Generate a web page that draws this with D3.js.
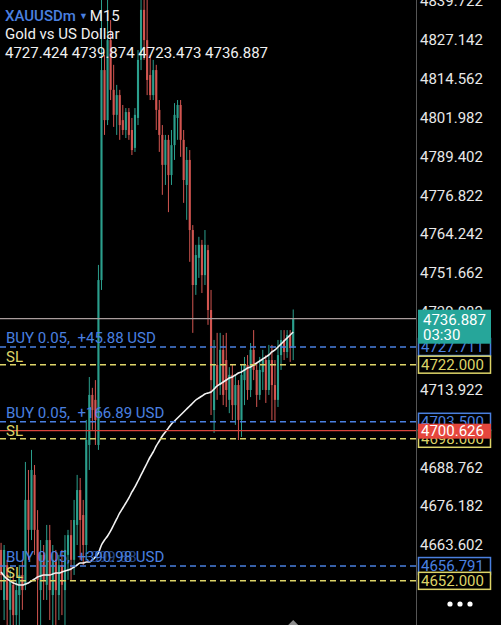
<!DOCTYPE html>
<html>
<head>
<meta charset="utf-8">
<script src="https://cdn.jsdelivr.net/npm/d3@7"></script>
<style>
  html, body { margin: 0; padding: 0; background: #000; overflow: hidden; }
  svg { display: block; font-family: Roboto, "Noto Sans", sans-serif; }
  text { white-space: pre; }
</style>
</head>
<body>
<svg width="501" height="625"></svg>
<script>
// The svg
var svg = d3.select("svg"),
    width = +svg.attr("width"),
    height = +svg.attr("height");

// XAUUSDm M15 candles
var opens = [4662.0, 4645.8, 4657.1, 4642.6, 4650.7, 4640.9, 4647.4, 4653.9, 4650.7, 4678.2,
             4668.5, 4686.3, 4668.5, 4649.0, 4660.4, 4650.7, 4665.2, 4647.4, 4658.8, 4647.4,
             4657.1, 4649.0, 4660.4, 4666.8, 4658.8, 4670.1, 4681.4, 4673.3, 4663.6, 4696.0,
             4712.2, 4710.6, 4696.0, 4749.4, 4817.4, 4801.2, 4827.1, 4811.0, 4802.9, 4809.3,
             4801.2, 4798.0, 4803.8, 4798.0, 4792.2, 4801.9, 4820.7, 4836.9, 4827.1, 4815.8,
             4809.3, 4817.4, 4804.5, 4796.4, 4786.7, 4794.8, 4783.4, 4793.1, 4801.9, 4806.1,
             4794.8, 4780.2, 4788.3, 4765.6, 4747.8, 4756.6, 4760.8, 4751.0, 4759.1, 4739.7,
             4707.3, 4721.9, 4715.4, 4726.8, 4723.5, 4710.6, 4718.7, 4708.9, 4715.4, 4704.1,
             4717.0, 4721.9, 4713.8, 4726.8, 4720.3, 4712.2, 4719.6, 4723.5, 4713.8, 4723.5,
             4715.4, 4710.6, 4725.1, 4730.0, 4726.1, 4731.6, 4727.424];
var highs = [4664.3, 4663.6, 4658.8, 4655.5, 4653.9, 4652.3, 4657.1, 4658.8, 4690.5, 4687.9,
             4694.4, 4689.5, 4674.9, 4665.2, 4663.6, 4670.1, 4670.1, 4663.6, 4662.0, 4660.4,
             4662.0, 4666.8, 4668.5, 4671.7, 4678.2, 4686.3, 4685.3, 4678.2, 4704.1, 4718.0,
             4714.5, 4717.0, 4754.3, 4841.7, 4822.3, 4840.1, 4833.6, 4819.1, 4812.6, 4811.0,
             4806.1, 4805.1, 4805.1, 4801.9, 4805.1, 4823.9, 4841.7, 4841.7, 4840.1, 4822.3,
             4820.7, 4819.1, 4807.7, 4799.6, 4796.4, 4796.4, 4798.0, 4806.7, 4807.7, 4807.7,
             4798.0, 4792.5, 4791.5, 4767.2, 4760.8, 4763.4, 4762.4, 4765.6, 4760.8, 4746.2,
             4730.0, 4732.3, 4732.3, 4731.6, 4732.3, 4721.2, 4721.9, 4718.7, 4717.0, 4721.9,
             4724.5, 4725.1, 4729.0, 4733.2, 4722.5, 4724.5, 4726.8, 4725.1, 4728.4, 4728.4,
             4723.5, 4730.0, 4733.2, 4733.2, 4733.2, 4733.2, 4739.874];
var lows = [4649.0, 4639.3, 4637.7, 4636.1, 4634.5, 4634.5, 4637.7, 4642.6, 4649.0, 4658.8,
            4665.2, 4660.4, 4637.7, 4637.7, 4645.8, 4645.8, 4639.3, 4637.7, 4637.7, 4639.3,
            4640.9, 4637.7, 4652.3, 4652.3, 4653.9, 4663.6, 4658.8, 4657.1, 4658.8, 4687.9,
            4700.9, 4696.0, 4694.4, 4746.2, 4796.4, 4799.6, 4807.7, 4799.0, 4796.4, 4794.8,
            4796.4, 4795.4, 4794.8, 4789.9, 4790.9, 4799.6, 4817.4, 4820.7, 4809.3, 4807.7,
            4807.7, 4798.0, 4790.9, 4777.0, 4780.2, 4771.4, 4780.2, 4788.3, 4794.8, 4789.3,
            4774.4, 4768.9, 4755.3, 4732.3, 4744.6, 4750.1, 4745.2, 4747.8, 4734.9, 4705.7,
            4699.9, 4710.6, 4712.2, 4708.9, 4708.3, 4706.3, 4704.1, 4702.5, 4697.6, 4698.6,
            4708.9, 4710.6, 4711.5, 4717.0, 4708.3, 4710.6, 4713.8, 4709.6, 4712.2, 4704.1,
            4703.4, 4708.3, 4720.3, 4723.5, 4724.2, 4722.9, 4723.473];
var closes = [4653.9, 4662.0, 4645.8, 4652.3, 4640.9, 4649.0, 4653.9, 4649.0, 4678.2, 4668.5,
              4687.9, 4668.5, 4652.3, 4660.4, 4652.3, 4665.2, 4649.0, 4658.8, 4649.0, 4657.1,
              4650.7, 4662.0, 4666.8, 4658.8, 4671.7, 4681.4, 4671.7, 4663.6, 4697.6, 4712.2,
              4707.3, 4704.1, 4749.4, 4817.4, 4801.2, 4827.1, 4811.0, 4802.9, 4809.3, 4799.6,
              4798.0, 4803.8, 4796.4, 4791.5, 4802.9, 4820.7, 4836.9, 4827.1, 4814.2, 4809.3,
              4817.4, 4804.5, 4796.4, 4786.7, 4794.8, 4783.4, 4793.1, 4802.9, 4806.1, 4794.8,
              4781.8, 4788.3, 4765.6, 4747.8, 4757.5, 4760.8, 4751.0, 4760.8, 4739.7, 4717.0,
              4721.9, 4715.4, 4726.8, 4712.2, 4713.8, 4718.7, 4708.9, 4715.4, 4704.1, 4718.7,
              4721.9, 4713.8, 4726.8, 4720.3, 4712.2, 4720.3, 4723.5, 4713.8, 4723.5, 4715.4,
              4710.6, 4725.1, 4730.0, 4726.1, 4731.6, 4727.4, 4736.887];

// moving average line (white), one value per candle
var maValues = [4654.86, 4653.57, 4652.60, 4651.95, 4651.30, 4650.98, 4650.65, 4650.65, 4650.98, 4651.30,
                4651.95, 4652.60, 4653.24, 4653.57, 4653.89, 4653.89, 4653.89, 4654.22, 4654.54, 4654.54,
                4654.86, 4655.19, 4655.51, 4655.84, 4656.48, 4657.13, 4657.78, 4657.78, 4658.10, 4658.10,
                4658.75, 4659.72, 4661.02, 4663.61, 4665.23, 4666.52, 4668.14, 4670.08, 4672.03, 4673.97,
                4675.59, 4677.21, 4678.83, 4680.77, 4682.39, 4684.33, 4686.28, 4688.22, 4690.16, 4692.10,
                4693.72, 4695.67, 4697.28, 4698.90, 4700.20, 4701.49, 4702.79, 4703.76, 4704.73, 4705.71,
                4706.68, 4707.65, 4708.62, 4709.59, 4710.56, 4711.21, 4711.86, 4712.51, 4712.83, 4713.15,
                4714.12, 4715.10, 4715.74, 4716.39, 4717.04, 4717.69, 4718.01, 4718.66, 4719.31, 4719.63,
                4720.28, 4720.93, 4721.25, 4721.90, 4722.54, 4723.19, 4723.84, 4724.49, 4725.14, 4726.11,
                4726.76, 4727.73, 4728.70, 4729.67, 4730.64, 4731.61, 4732.58];

// price axis
var tickValues = [4839.722, 4827.142, 4814.562, 4801.982, 4789.402, 4776.822, 4764.242, 4751.662,
                  4739.082, 4726.502, 4713.922, 4701.342, 4688.762, 4676.182, 4663.602, 4651.022];

// open positions: entry price, profit text, stop loss
var buyPrices = [4727.711, 4703.500, 4656.791];
var buyProfits = ["+45.88 USD", "+166.89 USD", "+390.98 USD"];
var slPrices = [4722.000, 4698.000, 4652.000];

var bidPrice = 4736.887, bidTimer = "03:30";
var askPrice = 4700.626;

var symbol = "XAUUSDm", timeframe = "M15", description = "Gold vs US Dollar";

// colours
var green = "#2b9f8d", red = "#d25550", blue = "#4a80e0", yellow = "#ddd468";

var plotRight = 416;
var slots = 137;  // visible bar slots incl. empty space on the right

var x = d3.scaleBand()
    .domain(d3.range(slots))
    .range([0, plotRight])
    .paddingInner(0.3);

var y = d3.scaleLinear()
    .domain([4663.602, 4827.142])
    .range([545, 40]);

var candles = opens.map((o, i) => ({ i: i, o: o, h: highs[i], l: lows[i], c: closes[i] }));

svg.append("rect").attr("width", width).attr("height", height).attr("fill", "#000");

svg.append("clipPath").attr("id", "plot")
  .append("rect").attr("width", plotRight).attr("height", height);

const g = svg.append("g").attr("clip-path", "url(#plot)");

// candles
var cg = g.selectAll("g.candle")
    .data(candles)
    .enter()
    .append("g")
      .attr("class", "candle");

cg.append("line")
    .attr("x1", d => x(d.i) + x.bandwidth() / 2)
    .attr("x2", d => x(d.i) + x.bandwidth() / 2)
    .attr("y1", d => y(d.h))
    .attr("y2", d => y(d.l))
    .attr("stroke", d => d.c >= d.o ? green : red)
    .attr("stroke-width", 1);

cg.append("rect")
    .attr("x", d => x(d.i))
    .attr("width", x.bandwidth())
    .attr("y", d => y(Math.max(d.o, d.c)))
    .attr("height", d => Math.max(1, Math.abs(y(d.o) - y(d.c))))
    .attr("fill", d => d.c >= d.o ? green : red);

// moving average
g.append("path")
    .datum(maValues)
    .attr("fill", "none")
    .attr("stroke", "#f2f2f2")
    .attr("stroke-width", 1.6)
    .attr("d", d3.line()
        .x((d, i) => x(i) + x.bandwidth() / 2)
        .y(d => y(d))
        .curve(d3.curveMonotoneX));

// bid line and ask line
g.append("line")
    .attr("x1", 0).attr("x2", plotRight)
    .attr("y1", y(bidPrice)).attr("y2", y(bidPrice))
    .attr("stroke", "#a99d9d").attr("stroke-width", 1.2);

g.append("line")
    .attr("x1", 0).attr("x2", plotRight)
    .attr("y1", y(askPrice)).attr("y2", y(askPrice))
    .attr("stroke", "#d8453c").attr("stroke-width", 1.2);

// position lines
g.selectAll("line.buy")
    .data(buyPrices)
    .enter()
    .append("line")
      .attr("class", "buy")
      .attr("x1", 0).attr("x2", plotRight)
      .attr("y1", d => y(d)).attr("y2", d => y(d))
      .attr("stroke", blue).attr("stroke-width", 1.5)
      .attr("stroke-dasharray", "6,4");

g.selectAll("line.sl")
    .data(slPrices)
    .enter()
    .append("line")
      .attr("class", "sl")
      .attr("x1", 0).attr("x2", plotRight)
      .attr("y1", d => y(d)).attr("y2", d => y(d))
      .attr("stroke", yellow).attr("stroke-width", 1.5)
      .attr("stroke-dasharray", "6,4");

g.selectAll("text.buy")
    .data(buyPrices)
    .enter()
    .append("text")
      .attr("class", "buy")
      .attr("x", 6)
      .attr("y", d => y(d) - 4)
      .attr("fill", blue)
      .style("font-size", "15px")
      .text((d, i) => "BUY 0.05,  " + buyProfits[i]);

// the last profit label is caught mid-update in the picture
g.append("text")
    .attr("x", 82)
    .attr("y", y(buyPrices[2]) - 4)
    .attr("fill", blue)
    .attr("opacity", 0.55)
    .style("font-size", "15px")
    .text("+399.88");

g.selectAll("text.sl")
    .data(slPrices)
    .enter()
    .append("text")
      .attr("class", "sl")
      .attr("x", 6)
      .attr("y", d => y(d) - 3)
      .attr("fill", yellow)
      .style("font-size", "15px")
      .text("SL");

// header
var head = svg.append("text")
    .attr("x", 5).attr("y", 21)
    .style("font-size", "15px");
head.append("tspan").attr("fill", blue).attr("font-weight", 500).text(symbol);
head.append("tspan").attr("fill", blue).style("font-size", "9px").attr("dx", 3).attr("dy", -2).text("▼");
head.append("tspan").attr("fill", "#f0f0f0").attr("dx", 2).attr("dy", 2).text(timeframe);

svg.append("text")
    .attr("x", 5).attr("y", 39)
    .attr("fill", "#f0f0f0")
    .style("font-size", "15px")
    .text(description);

var last = candles[candles.length - 1];
svg.append("text")
    .attr("x", 5).attr("y", 58)
    .attr("fill", "#f0f0f0")
    .style("font-size", "15px")
    .text([last.o, last.h, last.l, last.c].map(v => v.toFixed(3)).join(" "));

// price axis
svg.append("line")
    .attr("x1", plotRight + 0.5).attr("x2", plotRight + 0.5)
    .attr("y1", 0).attr("y2", height)
    .attr("stroke", "#555").attr("stroke-width", 1);

// labels fully hidden behind a price badge are not drawn
var badgePrices = buyPrices.concat(slPrices, [askPrice]);
var shownTicks = tickValues.filter(t => !badgePrices.some(p => Math.abs(y(p) - y(t)) < 5));

svg.selectAll("text.tick")
    .data(shownTicks)
    .enter()
    .append("text")
      .attr("class", "tick")
      .attr("x", 420)
      .attr("y", d => y(d))
      .attr("dy", "0.35em")
      .attr("fill", "#e8e8e8")
      .style("font-size", "15px")
      .text(d => d.toFixed(3));

// price badges
function badge(price, stroke, fill, colour) {
    var b = svg.append("g");
    b.append("rect")
        .attr("x", 418.5).attr("width", 72)
        .attr("y", y(price) - 8.5).attr("height", 17)
        .attr("fill", fill)
        .attr("stroke", stroke).attr("stroke-width", 1.5);
    b.append("text")
        .attr("x", 421)
        .attr("y", y(price))
        .attr("dy", "0.36em")
        .attr("fill", colour)
        .style("font-size", "15px")
        .text(price.toFixed(3));
}

badge(buyPrices[0], blue, "#000", blue);
badge(slPrices[0], yellow, "#000", yellow);
badge(buyPrices[1], blue, "#000", blue);
badge(slPrices[1], yellow, "#000", yellow);
badge(buyPrices[2], blue, "#000", blue);
badge(slPrices[2], yellow, "#000", yellow);

// ask badge (red, filled)
svg.append("rect")
    .attr("x", 418).attr("width", 73)
    .attr("y", y(askPrice) - 7).attr("height", 15)
    .attr("fill", "#e5463d");
svg.append("text")
    .attr("x", 421).attr("y", y(askPrice))
    .attr("dy", "0.36em")
    .attr("fill", "#fff")
    .style("font-size", "15px")
    .text(askPrice.toFixed(3));

// bid badge with bar timer
svg.append("rect")
    .attr("x", 418).attr("width", 73)
    .attr("y", y(bidPrice) - 9).attr("height", 34)
    .attr("fill", "#26a69a");
svg.append("text")
    .attr("x", 423).attr("y", y(bidPrice) + 6)
    .attr("fill", "#fff")
    .style("font-size", "15px")
    .text(bidPrice.toFixed(3));
svg.append("text")
    .attr("x", 423).attr("y", y(bidPrice) + 21)
    .attr("fill", "#fff")
    .style("font-size", "15px")
    .text(bidTimer);

// menu dots
svg.selectAll("circle.dot")
    .data([0, 1, 2])
    .enter()
    .append("circle")
      .attr("cx", d => 450 + d * 10)
      .attr("cy", 604)
      .attr("r", 2.6)
      .attr("fill", "#fff");

// scroll marker under the last bar
var lx = x(last.i) + x.bandwidth() / 2;
svg.append("path")
    .attr("d", "M" + (lx - 5) + "," + height + "L" + lx + "," + (height - 5) + "L" + (lx + 5) + "," + height + "Z")
    .attr("fill", "#8a8a8a");
</script>
</body>
</html>
